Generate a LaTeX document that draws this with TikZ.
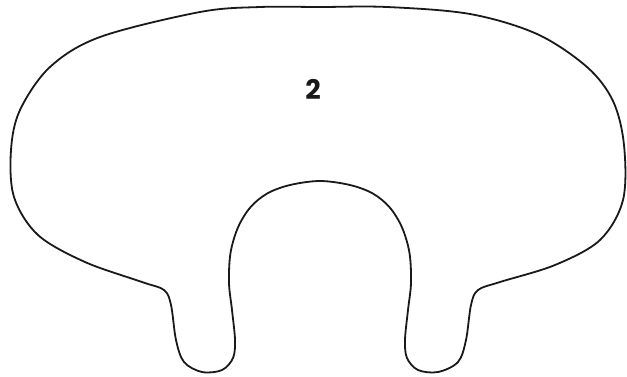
\documentclass[tikz,border=0pt]{standalone}
\usepackage{fontspec}
\newfontfamily\labelfont{Poppins Bold}
\begin{document}
\begin{tikzpicture}[x=1pt,y=-1pt,
  blob/.style={draw=black!90,line width=1.8pt,line join=round},
  lbl/.style={font=\labelfont\fontsize{27}{27}\selectfont,text=black!90,inner sep=0pt}]
\useasboundingbox (0,0) rectangle (627,376);
\draw[blob] plot[smooth cycle,tension=0.55] coordinates {
 (320,7) (387,7) (470,14) (537,34) (587,67) (613,101) (624,145) (623,200) (600,240) (555,265)
 (500,282) (478,290) (471,305) (466,340) (458,362) (438,372) (418,370) (407,358)
 (405,340) (408,310) (411,283) (409.5,253) (402,227.4) (389.7,207.4) (372.8,193.5)
 (350,185) (320,181) (290,185) (267.2,193.5) (250.3,207.4) (238,227.4)
 (230.5,253) (229,283) (232,310)
 (235,340) (233,358) (222,370) (202,372) (184,362) (176,340) (171,305) (164,290)
 (142,282) (85,262) (38,235) (14,197) (11,150) (20,110) (50,67) (100,37) (200,12) (260,7)};
\node[lbl] (two) at (313,89) {2};
\end{tikzpicture}
\end{document}
